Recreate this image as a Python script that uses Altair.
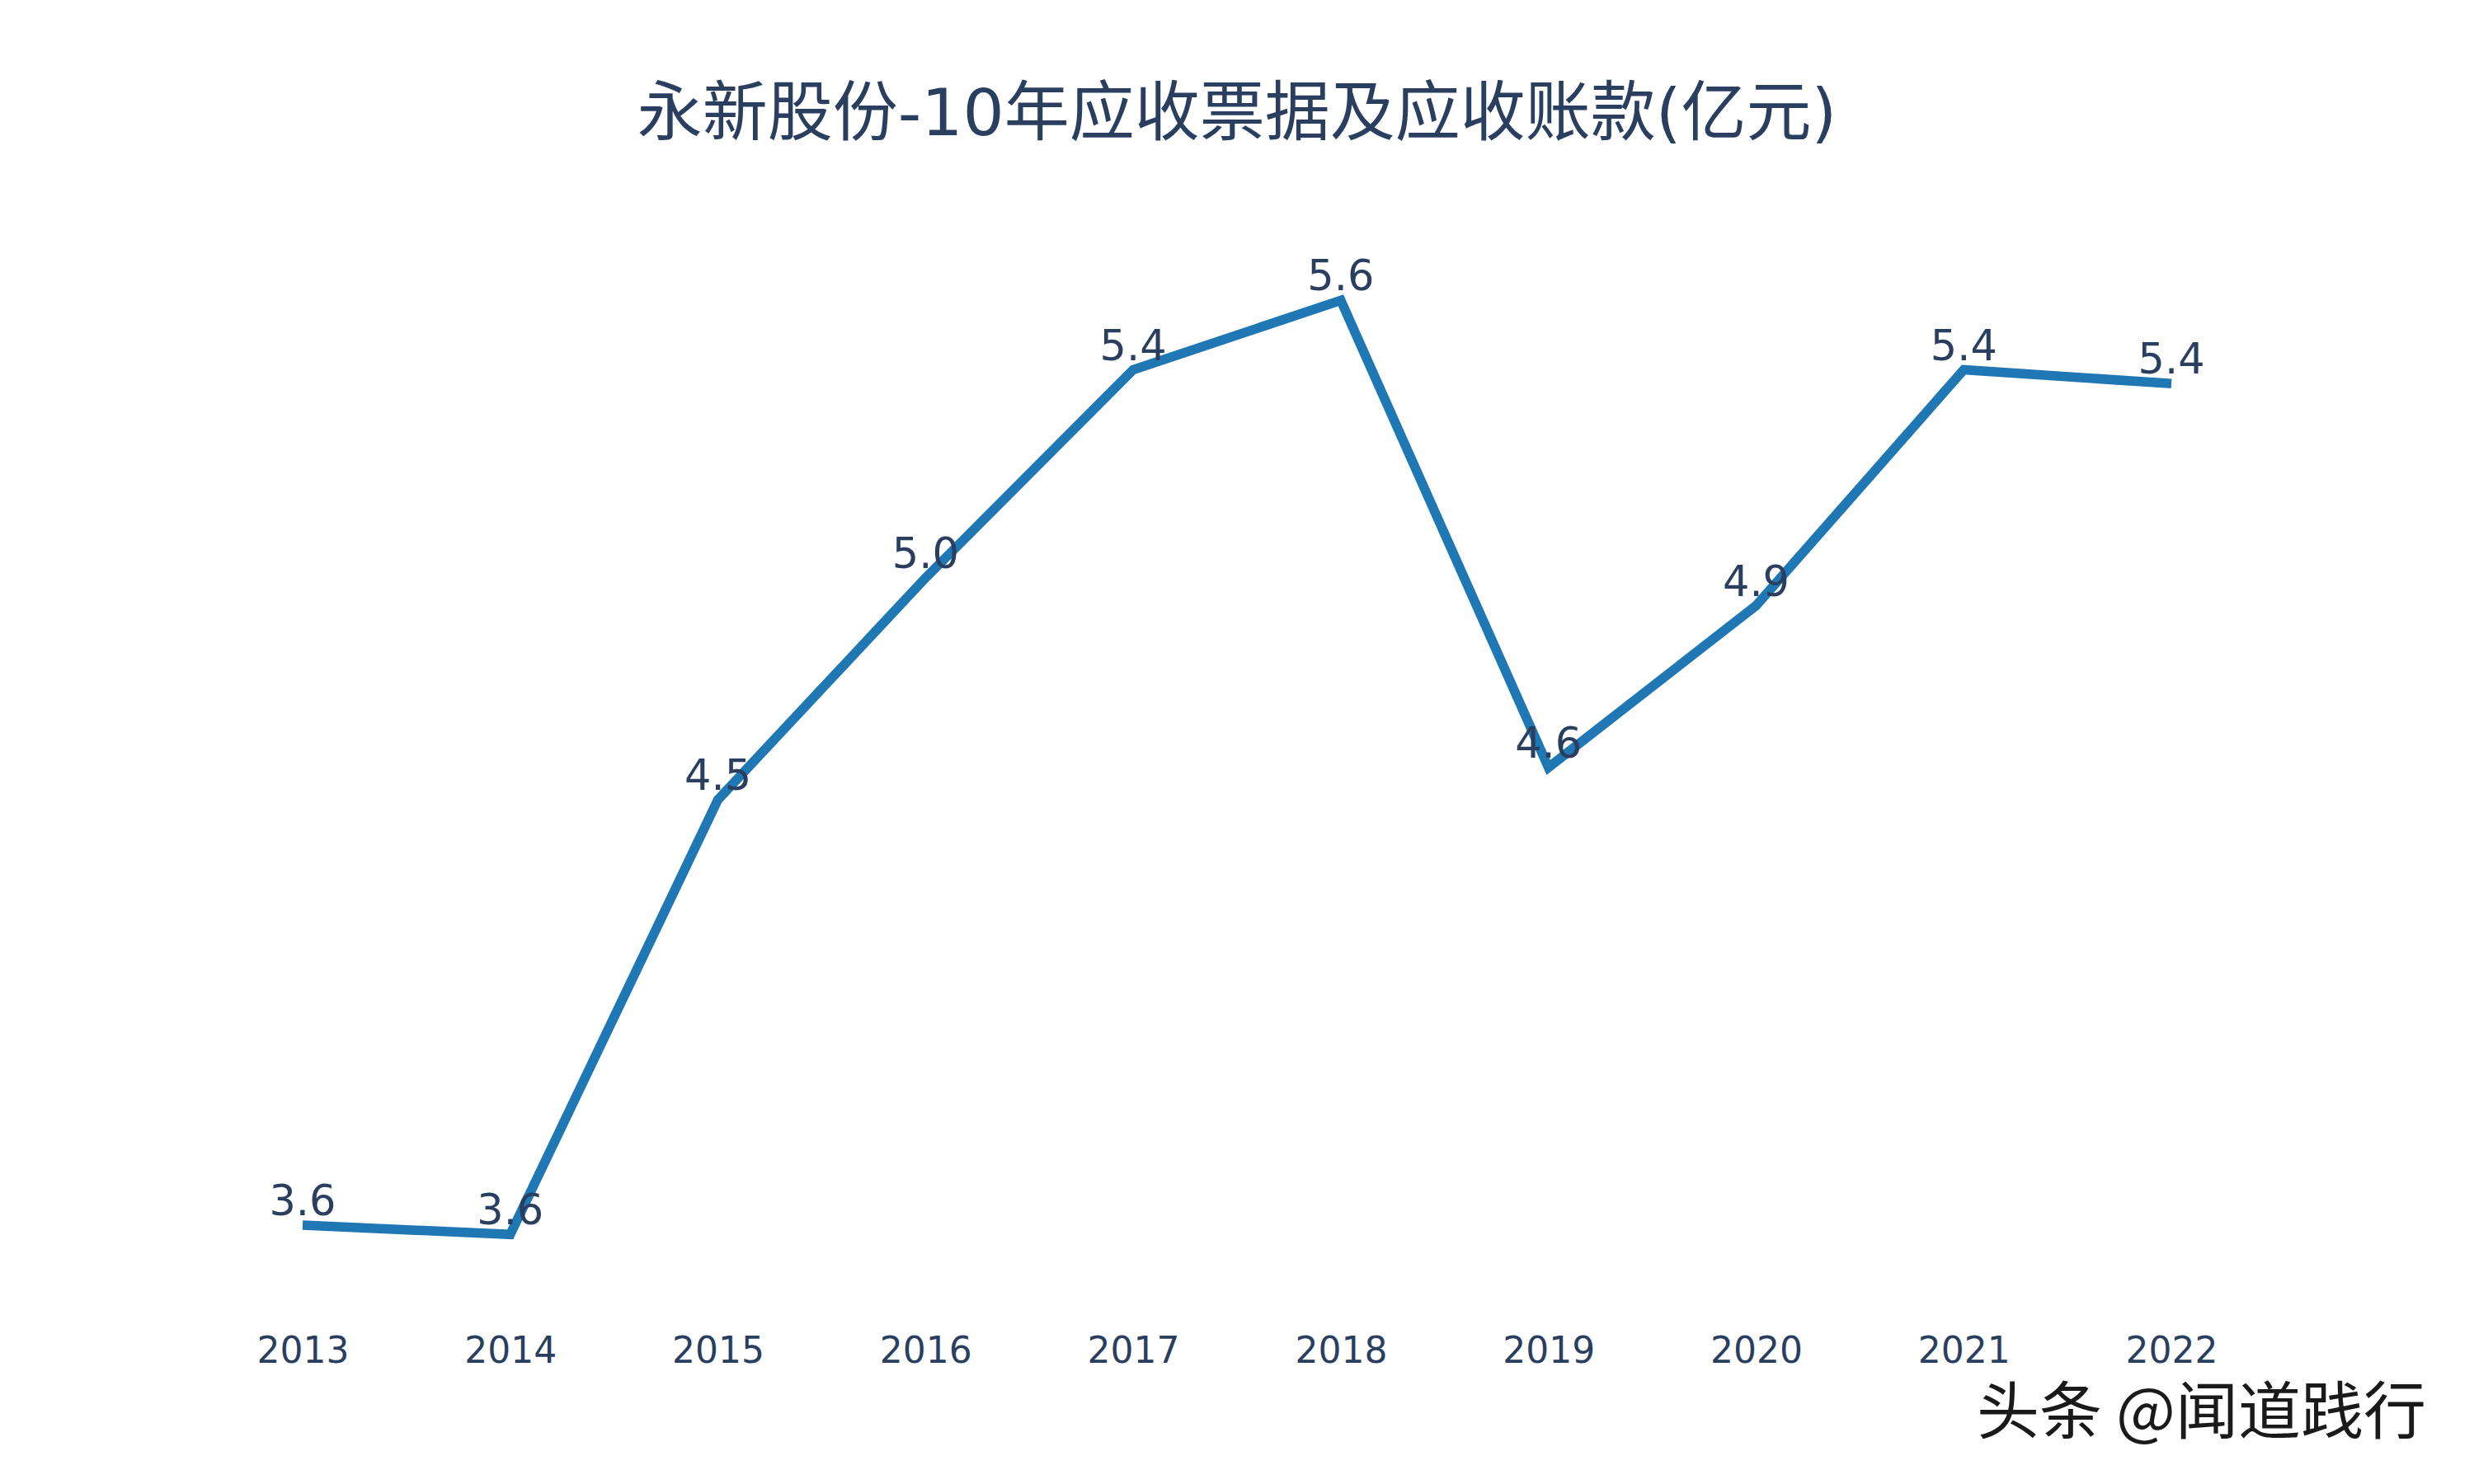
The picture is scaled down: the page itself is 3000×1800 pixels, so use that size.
import altair as alt
import pandas as pd

years = ["2013", "2014", "2015", "2016", "2017", "2018", "2019", "2020", "2021", "2022"]
values = [3.58, 3.56, 4.50, 4.98, 5.43, 5.58, 4.57, 4.92, 5.43, 5.40]
title_text = "永新股份-10年应收票据及应收账款(亿元)"
watermark = "头条 @闻道践行"

df = pd.DataFrame({"year": years, "value": values})

LINE = "#1f77b4"
TXT = "#2a3f5f"
FONT = "DejaVu Sans, Noto Sans CJK SC"

x = alt.X(
    "year:O",
    scale=alt.Scale(type="point", padding=0.663),
    axis=alt.Axis(
        title=None, labelAngle=0, ticks=False, domain=False, grid=False,
        labelFontSize=44, labelColor=TXT, labelFont=FONT, labelPadding=30,
    ),
)
y = alt.Y("value:Q", scale=alt.Scale(domain=[3.4, 5.8], nice=False, zero=False), axis=None)

base = alt.Chart(df).encode(x=x, y=y)

line = base.mark_line(color=LINE, strokeWidth=11.5, strokeJoin="miter")
labels = base.mark_text(
    fontSize=51, font=FONT, color=TXT, baseline="alphabetic", dy=-12, align="center"
).encode(text=alt.Text("value:Q", format=".1f"))

wm = alt.Chart(pd.DataFrame({"t": [watermark]})).mark_text(
    fontSize=76, font="Noto Sans CJK SC", color="#1a1a1a", align="left", baseline="alphabetic"
).encode(text="t:N", x=alt.value(2197), y=alt.value(1498))

chart = alt.layer(line, labels, wm).properties(
    width=2600,
    height=1346,
    title=alt.TitleParams(
        text=title_text, fontSize=79, font=FONT, color=TXT, anchor="middle",
        offset=60, fontWeight="normal",
    ),
    autosize=alt.AutoSizeParams(type="none"),
    padding={"left": 192, "right": 180, "top": 233, "bottom": 200},
    background="white",
).configure_view(stroke=None)

chart.save("out.html", embed_options={"renderer": "svg", "actions": False})
